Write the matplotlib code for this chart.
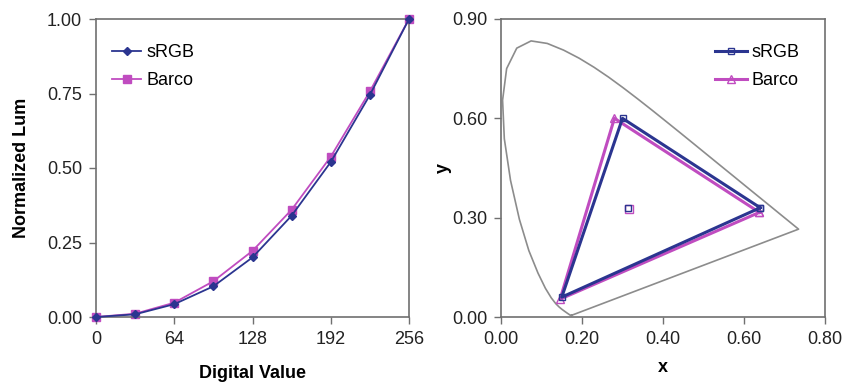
import matplotlib.pyplot as plt
from matplotlib.ticker import FormatStrFormatter

plt.rcParams['font.family'] = ['Liberation Sans', 'DejaVu Sans']

# Daten: linke Grafik (Graustufen-Kennlinie)
digital = [0, 32, 64, 96, 128, 160, 192, 224, 256]
lum_srgb = [0.0, 0.009, 0.043, 0.103, 0.200, 0.340, 0.520, 0.745, 1.0]
lum_barco = [0.0, 0.011, 0.048, 0.120, 0.222, 0.360, 0.538, 0.757, 1.0]

# Daten: rechte Grafik (Farbraum, Spektralzug)
locus_x = [0.1741, 0.1733, 0.1714, 0.1644, 0.1566, 0.1510, 0.1440, 0.1355,
           0.1241, 0.1096, 0.0913, 0.0687, 0.0454, 0.0235, 0.0082, 0.0039,
           0.0139, 0.0389, 0.0743, 0.1142, 0.1547, 0.1929, 0.2296, 0.2658,
           0.3016, 0.3373, 0.3731, 0.4087, 0.4441, 0.4788, 0.5125, 0.5448,
           0.5752, 0.6029, 0.6270, 0.6658, 0.6915, 0.7079, 0.7190, 0.7300,
           0.7347, 0.1741]
locus_y = [0.0050, 0.0048, 0.0051, 0.0109, 0.0177, 0.0227, 0.0297, 0.0399,
           0.0578, 0.0868, 0.1327, 0.2007, 0.2950, 0.4127, 0.5384, 0.6548,
           0.7502, 0.8120, 0.8338, 0.8262, 0.8059, 0.7816, 0.7543, 0.7243,
           0.6923, 0.6589, 0.6245, 0.5896, 0.5547, 0.5202, 0.4866, 0.4544,
           0.4242, 0.3965, 0.3725, 0.3340, 0.3083, 0.2920, 0.2809, 0.2700,
           0.2653, 0.0050]
srgb_x = [0.64, 0.30, 0.15, 0.64]
srgb_y = [0.33, 0.60, 0.06, 0.33]
barco_x = [0.638, 0.280, 0.146, 0.638]
barco_y = [0.316, 0.600, 0.054, 0.316]
srgb_white = (0.313, 0.329)
barco_white = (0.316, 0.327)

navy = '#2b3590'
magenta = '#c04cc0'
frame = '#707070'
txt = '#222222'

fig = plt.figure(figsize=(8.51, 3.82), dpi=100)


def style(ax):
    for s in ax.spines.values():
        s.set_color(frame)
        s.set_linewidth(1.2)
    ax.tick_params(direction='out', length=5, width=1, color=frame,
                   labelsize=13, labelcolor=txt, pad=5)


# Linke Grafik
ax1 = fig.add_axes([96 / 851, 1 - 317 / 382, 313 / 851, 298 / 382])
ax1.plot(digital, lum_srgb, color=navy, marker='D', markersize=4,
         linewidth=1.3, label='sRGB', clip_on=False, zorder=3)
ax1.plot(digital, lum_barco, color=magenta, marker='s', markersize=6,
         linewidth=1.3, label='Barco', clip_on=False, zorder=2)
ax1.set_xlim(0, 256)
ax1.set_ylim(0, 1)
ax1.set_xticks([0, 64, 128, 192, 256])
ax1.set_yticks([0, 0.25, 0.5, 0.75, 1.0])
ax1.yaxis.set_major_formatter(FormatStrFormatter('%.2f'))
style(ax1)
ax1.set_xlabel('Digital Value', fontsize=13, fontweight='bold', labelpad=12)
ax1.set_ylabel('Normalized Lum', fontsize=13, fontweight='bold', labelpad=12)
ax1.legend(loc='upper left', bbox_to_anchor=(0.0, 0.97), frameon=False,
           fontsize=13, handlelength=1.6, handletextpad=0.3,
           labelspacing=0.6)

# Rechte Grafik
ax2 = fig.add_axes([501 / 851, 1 - 317 / 382, 324 / 851, 298 / 382])
ax2.plot(locus_x, locus_y, color='#8c8c8c', linewidth=1.2, zorder=1)
ax2.plot(srgb_x, srgb_y, color=navy, marker='s', markersize=5,
         markerfacecolor='none', linewidth=2.2, label='sRGB', zorder=3)
ax2.plot(barco_x, barco_y, color=magenta, marker='^', markersize=6,
         markerfacecolor='none', linewidth=2.2, label='Barco', zorder=2)
ax2.plot([srgb_white[0]], [srgb_white[1]], color=navy, marker='s',
         markersize=5, markerfacecolor='none', linestyle='none', zorder=3)
ax2.plot([barco_white[0]], [barco_white[1]], color=magenta, marker='s',
         markersize=6, markerfacecolor='none', linestyle='none', zorder=2)
ax2.set_xlim(0, 0.8)
ax2.set_ylim(0, 0.9)
ax2.set_xticks([0, 0.2, 0.4, 0.6, 0.8])
ax2.set_yticks([0, 0.3, 0.6, 0.9])
ax2.xaxis.set_major_formatter(FormatStrFormatter('%.2f'))
ax2.yaxis.set_major_formatter(FormatStrFormatter('%.2f'))
style(ax2)
ax2.set_xlabel('x', fontsize=13, fontweight='bold', labelpad=8)
ax2.set_ylabel('y', fontsize=13, fontweight='bold', labelpad=0)
ax2.legend(loc='upper right', bbox_to_anchor=(0.97, 0.97), frameon=False,
           fontsize=13, handlelength=1.8, handletextpad=0.2,
           labelspacing=0.6)

fig.savefig('out.png', dpi=100)
